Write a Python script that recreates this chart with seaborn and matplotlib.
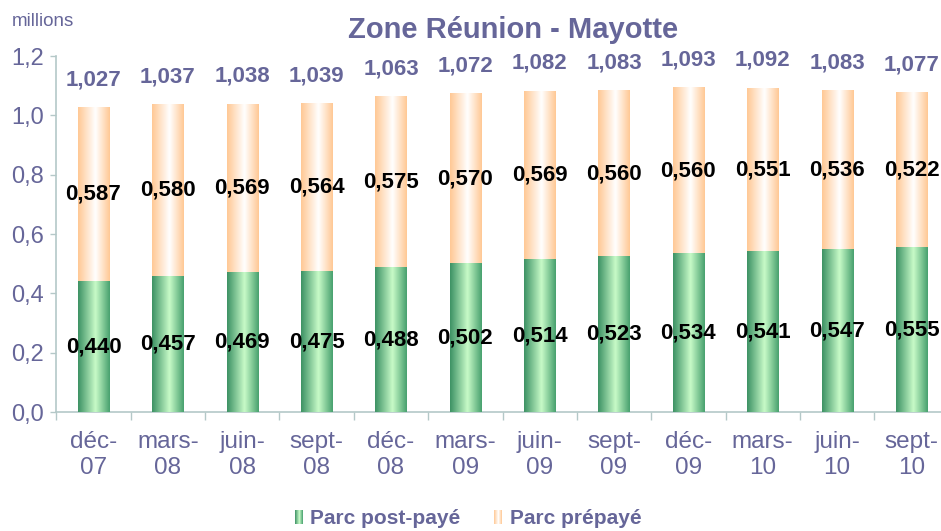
import numpy as np
import pandas as pd
import matplotlib
matplotlib.use("Agg")
import matplotlib.pyplot as plt
import seaborn as sns
from matplotlib.colors import LinearSegmentedColormap
from matplotlib.legend_handler import HandlerBase
from matplotlib.patches import Rectangle

# data (millions)
periods = ["déc-\n07", "mars-\n08", "juin-\n08", "sept-\n08", "déc-\n08", "mars-\n09",
           "juin-\n09", "sept-\n09", "déc-\n09", "mars-\n10", "juin-\n10", "sept-\n10"]
post_paye = [0.440, 0.457, 0.469, 0.475, 0.488, 0.502, 0.514, 0.523, 0.534, 0.541, 0.547, 0.555]
prepaye = [0.587, 0.580, 0.569, 0.564, 0.575, 0.570, 0.569, 0.560, 0.560, 0.551, 0.536, 0.522]
totals = [1.027, 1.037, 1.038, 1.039, 1.063, 1.072, 1.082, 1.083, 1.093, 1.092, 1.083, 1.077]

df = pd.DataFrame({"periode": periods, "post": post_paye, "pre": prepaye, "total": totals})

PURPLE = "#666699"
AXIS = "#b4c8c8"

green_cmap = LinearSegmentedColormap.from_list(
    "g", [(0, "#3c9164"), (0.55, "#c8fbc8"), (1, "#47a06e")])
peach_cmap = LinearSegmentedColormap.from_list(
    "p", [(0, "#ffc894"), (0.55, "#ffffff"), (1, "#ffc894")])

sns.set_style("white")
plt.rcParams["font.family"] = ["Liberation Sans", "DejaVu Sans"]

fig = plt.figure(figsize=(9.41, 5.31), dpi=100)
ax = fig.add_axes([56.3 / 941, 1 - 412 / 531, 892.4 / 941, 356 / 531])

# stacked bars: total underneath, post-paid on top
sns.barplot(data=df, x="periode", y="total", color="#ffd8b0", width=0.42, ax=ax)
n_tot = len(ax.patches)
sns.barplot(data=df, x="periode", y="post", color="#80c890", width=0.42, ax=ax)

grad = np.linspace(0, 1, 128).reshape(1, -1)
for i, p in enumerate(ax.patches):
    x, w, h = p.get_x(), p.get_width(), p.get_height()
    cmap = peach_cmap if i < n_tot else green_cmap
    z = 2 if i < n_tot else 3
    ax.imshow(grad, extent=[x, x + w, 0, h], aspect="auto", cmap=cmap,
              zorder=z, interpolation="bicubic")
    p.set_visible(False)

ax.set_xlim(-0.5, len(periods) - 0.5)
ax.set_ylim(0, 1.2)

# value labels
for i in range(len(periods)):
    ax.text(i, post_paye[i] / 2, f"{post_paye[i]:.3f}".replace(".", ","),
            ha="center", va="center", fontsize=16, fontweight="bold", color="black", zorder=5)
    ax.text(i, post_paye[i] + prepaye[i] / 2, f"{prepaye[i]:.3f}".replace(".", ","),
            ha="center", va="center", fontsize=16, fontweight="bold", color="black", zorder=5)
    ax.annotate(f"{totals[i]:.3f}".replace(".", ","), (i, totals[i]), xytext=(0, 20),
                textcoords="offset points", ha="center", va="center",
                fontsize=16, fontweight="bold", color=PURPLE, annotation_clip=False)

# axes styling
for s in ["top", "right"]:
    ax.spines[s].set_visible(False)
for s in ["left", "bottom"]:
    ax.spines[s].set_color(AXIS)
    ax.spines[s].set_linewidth(1.2)

yt = np.arange(0, 1.21, 0.2)
ax.set_yticks(yt)
ax.set_yticklabels([f"{v:.1f}".replace(".", ",") for v in yt])
ax.tick_params(axis="y", length=4, width=1, color=AXIS, pad=5, labelsize=17, labelcolor=PURPLE, left=True)
ax.set_xticks(np.arange(-0.5, len(periods), 1), minor=True)
ax.tick_params(axis="x", which="minor", length=6, width=1, color=AXIS, bottom=True)
ax.tick_params(axis="x", which="major", length=0, pad=14, labelsize=17.5, labelcolor=PURPLE)
ax.set_xlabel("")
ax.set_ylabel("")

fig.text(12 / 941, 1 - 22 / 531, "millions", fontsize=13.5, color=PURPLE, va="center", ha="left")
fig.text(513 / 941, 1 - 30 / 531, "Zone Réunion - Mayotte", fontsize=21, fontweight="bold",
         color=PURPLE, ha="center", va="center")


# legend with gradient swatches
class GradHandler(HandlerBase):
    def __init__(self, cmap):
        super().__init__()
        self.cmap = cmap

    def create_artists(self, legend, orig_handle, xdescent, ydescent, width, height, fontsize, trans):
        arts = []
        n = 8
        for k in range(n):
            arts.append(Rectangle((-xdescent + k * width / n, -ydescent), width / n, height,
                                  facecolor=self.cmap((k + 0.5) / n), edgecolor="none", transform=trans))
        return arts


h1 = Rectangle((0, 0), 1, 1)
h2 = Rectangle((0, 0), 1, 1)
leg = fig.legend([h1, h2], ["Parc post-payé", "Parc prépayé"], loc="center",
                 bbox_to_anchor=(468 / 941, 1 - 519 / 531), ncol=2, frameon=False,
                 handler_map={h1: GradHandler(green_cmap), h2: GradHandler(peach_cmap)},
                 handlelength=0.4, handleheight=0.65, handletextpad=0.35, columnspacing=1.6,
                 prop={"size": 15, "weight": "bold"})
for t in leg.get_texts():
    t.set_color(PURPLE)

fig.savefig("out.png", dpi=100)
